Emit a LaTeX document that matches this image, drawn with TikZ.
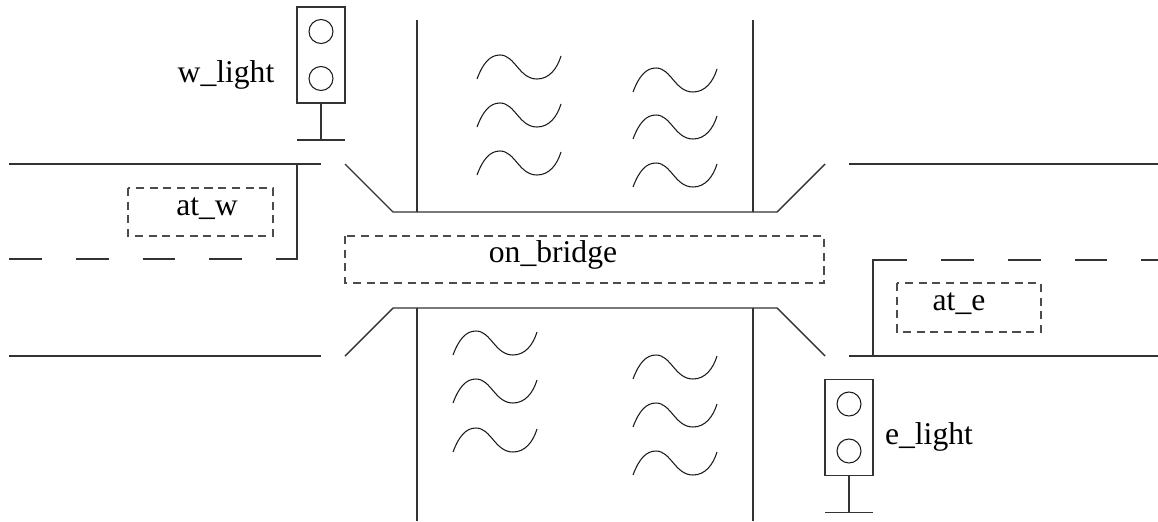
\documentclass[tikz,border=0pt]{standalone}
\usepackage{fontspec}
\setmainfont{Liberation Serif}
\usetikzlibrary{positioning}

\tikzset{
  road/.style={draw=black!80, line width=0.8pt},
  zone/.style={draw=black!70, line width=0.8pt, dash pattern=on 4.6pt off 3.2pt},
  wave/.style={draw=black!90, line width=0.6pt},
  label/.style={anchor=base, inner sep=0pt},
  % signal post: box, two lamps, pole and foot
  signal/.pic={
    \draw[road] (-24,-48) rectangle (24,48);
    \draw[wave] (0,-23.5) circle[radius=0.24cm] (0,23.5) circle[radius=0.24cm];
    \draw[road] (0,48) -- (0,85) (-24,85) -- (24,85);
  }
}

\begin{document}
\begin{tikzpicture}[x=0.02cm, y=-0.02cm, font=\fontsize{18}{21}\selectfont]
  \useasboundingbox (0,0) rectangle (1158,521);

  % west road
  \draw[road] (9,164) -- (321,164);
  \draw[road] (9,356) -- (321,356);
  \draw[road] (297,164) -- (297,259) -- (278,259);
  \draw[road, dash pattern=on 18.7pt off 19.3pt] (9,259) -- (278,259);

  % east road
  \draw[road] (849,164) -- (1158,164);
  \draw[road] (849,356) -- (1158,356);
  \draw[road] (873,356) -- (873,260) -- (907,260);
  \draw[road, dash pattern=on 18.7pt off 19.3pt] (941,260) -- (1158,260);

  % bridge and river banks
  \draw[road] (345,164) -- (393,212) -- (777,212) -- (825,164);
  \draw[road] (345,356) -- (393,308) -- (777,308) -- (825,356);
  \draw[road] (417,20) -- (417,212) (753,20) -- (753,212);
  \draw[road] (417,308) -- (417,521) (753,308) -- (753,521);

  % water
  \foreach \x/\y in {477/79, 477/127, 477/175, 633/92, 633/139, 633/187,
                     453/355, 453/403, 453/452, 633/379, 633/427, 633/475}
    \draw[wave, shift={(\x,\y)}] (0,0) .. controls (6,-16) and (13,-24) .. (23,-24)
      .. controls (38,-24) and (42,0) .. (60,0)
      .. controls (72,0) and (80,-10) .. (84,-23);

  % sensor zones
  \draw[zone] (128,188) rectangle (273,236);
  \draw[zone] (345,236) rectangle (824,283);
  \draw[zone] (897,283) rectangle (1041,332);
  \node[label] (atw) at (207,215) {at\_w};
  \node[label] (onbridge) at (553,262) {on\_bridge};
  \node[label] (ate) at (959,310) {at\_e};

  % lights
  \pic (wsig) at (321,55) {signal};
  \pic (esig) at (849,427.5) {signal};
  \node[label] (wlight) at (226,82) {w\_light};
  \node[label] (elight) at (929,444) {e\_light};
\end{tikzpicture}
\end{document}
